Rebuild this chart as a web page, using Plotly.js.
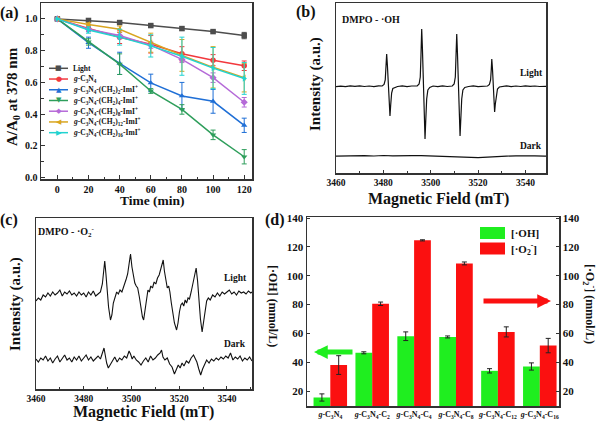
<!DOCTYPE html>
<html><head><meta charset="utf-8">
<script src="https://cdn.plot.ly/plotly-3.0.1.min.js"></script>
<style>html,body{margin:0;padding:0;background:#fff}#chart{width:600px;height:427px}</style>
</head><body><div id="chart"></div>
<script>
// ---------- Panel (a): photodegradation ----------
const time = [0, 20, 40, 60, 80, 100, 120];
const aLabels = ['Light',
  '<i>g</i>-C<sub>3</sub>N<sub>4</sub>',
  '<i>g</i>-C<sub>3</sub>N<sub>4</sub>-(CH<sub>2</sub>)<sub>2</sub>-ImI<sup>+</sup>',
  '<i>g</i>-C<sub>3</sub>N<sub>4</sub>-(CH<sub>2</sub>)<sub>4</sub>-ImI<sup>+</sup>',
  '<i>g</i>-C<sub>3</sub>N<sub>4</sub>-(CH<sub>2</sub>)<sub>8</sub>-ImI<sup>+</sup>',
  '<i>g</i>-C<sub>3</sub>N<sub>4</sub>-(CH<sub>2</sub>)<sub>12</sub>-ImI<sup>+</sup>',
  '<i>g</i>-C<sub>3</sub>N<sub>4</sub>-(CH<sub>2</sub>)<sub>16</sub>-ImI<sup>+</sup>'];
const aLight = [1.0, 0.990, 0.977, 0.958, 0.939, 0.920, 0.895];
const aC3N4  = [1.0, 0.940, 0.885, 0.840, 0.780, 0.740, 0.705];
const aC2    = [1.0, 0.850, 0.720, 0.597, 0.515, 0.481, 0.330];
const aC4    = [1.0, 0.855, 0.715, 0.546, 0.430, 0.270, 0.132];
const aC8    = [1.0, 0.935, 0.895, 0.835, 0.745, 0.630, 0.475];
const aC12   = [1.0, 0.965, 0.935, 0.850, 0.770, 0.695, 0.630];
const aC16   = [1.0, 0.930, 0.885, 0.830, 0.765, 0.690, 0.625];
const eLight = [0, 0.008, 0.008, 0.008, 0.010, 0.008, 0.020];
const eC3N4  = [0, 0.020, 0.040, 0.055, 0.045, 0.035, 0.030];
const eC2    = [0, 0.035, 0.070, 0.055, 0.085, 0.075, 0.045];
const eC4    = [0, 0.020, 0.065, 0.015, 0.030, 0.030, 0.045];
const eC8    = [0, 0.015, 0.020, 0.020, 0.020, 0.030, 0.030];
const eC12   = [0, 0.010, 0.020, 0.060, 0.100, 0.130, 0.090];
const eC16   = [0, 0.020, 0.050, 0.070, 0.120, 0.130, 0.100];

// ---------- Panel (b): DMPO-·OH EPR ----------
const bLightField = [3460,3462,3464,3466,3468,3470,3472,3474,3476,3478,3479.5,3480.3,3480.8,3481.1,3481.4,3481.7,3482.0,3482.3,3482.6,3482.8,3483.1,3483.5,3484.0,3484.8,3486,3488,3490,3492,3494.3,3495.1,3495.6,3495.9,3496.2,3496.5,3496.8,3497.1,3497.4,3497.6,3497.9,3498.3,3498.8,3499.6,3501,3503,3505,3507,3509.1,3509.9,3510.4,3510.7,3511.0,3511.3,3511.6,3511.9,3512.2,3512.4,3512.7,3513.1,3513.6,3514.4,3516,3518,3520,3522,3524.0,3524.8,3525.3,3525.6,3525.8,3526.1,3526.4,3526.7,3527.0,3527.3,3527.7,3528.2,3529,3530,3532,3534,3536,3538,3540,3542,3544,3546,3548,3549];
const bLight = [86.4,86.9,86.3,87.1,86.6,87.2,86.5,87.0,86.4,87.2,87.0,88.5,93,105,119,108,90,72,60,57,68,80,84.5,85.5,86.5,87.1,86.4,87.0,87.0,89,96,118,144,125,95,65,42,34,52,74,83,85.5,87.0,86.3,87.1,86.5,87.0,89,96,117,139,120,93,65,44,37,53,74,83,85.5,86.5,87.1,86.3,86.9,87.0,88.5,93,104,114,104,87,70,61,69,79,84,86,86.5,87.1,86.4,87.0,86.5,87.2,86.6,87.0,86.5,86.9,86.6];
const bDarkField = [3460,3464,3468,3472,3476,3480,3484,3488,3492,3496,3500,3504,3508,3512,3516,3520,3524,3528,3532,3536,3540,3544,3548,3549];
const bDark = [16.8,17.2,16.9,17.4,17.0,17.5,17.2,17.6,17.3,17.4,17.0,17.2,16.8,16.4,16.0,15.4,15.8,16.6,16.9,17.2,16.8,17.1,16.9,17.0];

// ---------- Panel (c): DMPO-·O2- EPR ----------
const cLightField = [3460,3461,3462,3463,3464,3465,3466,3467,3468,3469,3470,3471,3472,3473,3474,3475,3476,3477,3478,3479,3480,3481,3482,3483,3484,3485,3486,3487,3487.8,3488.4,3488.8,3489.3,3489.8,3490.4,3491.2,3491.8,3492.4,3493.2,3493.8,3494.5,3495.2,3496,3496.6,3497.2,3497.8,3498.4,3498.9,3499.6,3500.2,3500.8,3501.4,3502,3502.6,3503.3,3504,3504.6,3505.1,3505.7,3506.3,3506.9,3507.5,3508.1,3508.8,3509.5,3510.2,3510.9,3511.6,3512.3,3512.9,3513.3,3513.8,3514.4,3515,3515.6,3516.1,3516.7,3517.3,3518,3518.9,3519.5,3520.1,3520.7,3521.3,3521.9,3522.5,3523.1,3523.7,3524.3,3525,3525.7,3526.4,3527.1,3527.7,3528.3,3528.9,3529.6,3530.2,3530.8,3531.5,3532.2,3533,3534,3535,3536,3537,3538,3539,3540,3541,3542,3543,3544,3545,3546,3547,3548,3549,3550,3550.5];
const cLight = [88,91,89,94,92,96,93,97,94,96,99,93,97,95,98,94,96,93,97,94,96,92,97,94,98,93,95,97,105,120,128,115,98,82,69,74,86,94,97,95,99,97,101,104,110,115,124,135,122,112,106,103,101,92,80,72,69,80,92,99,97,103,101,107,105,111,114,120,126,129,118,108,101,103,97,86,78,66,59,66,77,84,86,83,89,86,91,90,97,106,114,121,108,88,70,57,68,80,88,91,89,94,92,96,93,97,95,97,99,95,97,94,98,96,97,95,98,96,97];
const cDarkField = [3460,3461,3462,3463,3464,3465,3466,3467,3468,3469,3470,3471,3472,3473,3474,3475,3476,3477,3478,3479,3480,3481,3482,3483,3484,3485,3486,3487,3488,3488.5,3489,3489.6,3490.3,3491,3492,3493,3494,3495,3496,3497,3498,3499,3499.6,3500.3,3501,3502,3503,3504,3505,3506,3507,3508,3509,3510,3511,3512,3512.6,3513.2,3514,3515,3516,3517,3518,3518.8,3519.6,3520.4,3521.2,3522,3523,3524,3525,3526,3526.7,3527.4,3528.2,3529,3529.8,3530.6,3531.5,3532.5,3533.5,3534.5,3535.5,3536.5,3537.5,3538.5,3539.5,3540.5,3541.5,3542.5,3543.5,3544.5,3545.5,3546.5,3547.5,3548.5,3549.5,3550.5];
const cDark = [30,27,31,29,33,28,31,26,30,33,27,30,34,29,31,27,32,29,33,28,31,34,29,32,28,31,33,30,36,41,34,26,21,24,28,32,27,31,29,33,31,38,35,30,33,29,27,24,28,31,27,33,29,31,34,36,39,32,29,31,25,22,15,19,24,21,26,23,28,26,31,34,31,27,20,14,20,25,29,26,30,28,31,29,32,30,33,31,36,29,32,30,33,28,31,29,32,28];

// ---------- Panel (d): radical concentrations ----------
const dCategories = ['<i>g</i>-C<sub>3</sub>N<sub>4</sub>',
  '<i>g</i>-C<sub>3</sub>N<sub>4</sub>-C<sub>2</sub>',
  '<i>g</i>-C<sub>3</sub>N<sub>4</sub>-C<sub>4</sub>',
  '<i>g</i>-C<sub>3</sub>N<sub>4</sub>-C<sub>8</sub>',
  '<i>g</i>-C<sub>3</sub>N<sub>4</sub>-C<sub>12</sub>',
  '<i>g</i>-C<sub>3</sub>N<sub>4</sub>-C<sub>16</sub>'];
const dOH     = [15.5, 46.5, 58.0, 57.5, 34.0, 37.0];
const dOHerr  = [2.5, 0.7, 3.0, 0.7, 1.5, 2.5];
const dO2     = [38.0, 80.5, 124.5, 108.5, 61.0, 51.5];
const dO2err  = [6.5, 1.2, 0.4, 1.0, 3.5, 5.0];

// ---------- drawing ----------
const FONT = 'Liberation Serif, "Times New Roman", serif';
const X = p => p / 600;
const Y = p => 1 - p / 427;
const BOLD = (size) => ({family: FONT, size: size, color: '#111', weight: 'bold'});

const aStyle = [
  {color: '#4d4d4d', symbol: 'square', ch: '\u25A0'},
  {color: '#f2383d', symbol: 'circle', ch: '\u25CF'},
  {color: '#1f6fd6', symbol: 'triangle-up', ch: '\u25B2'},
  {color: '#2e9e5b', symbol: 'triangle-down', ch: '\u25BC'},
  {color: '#b56ad8', symbol: 'diamond', ch: '\u25C6'},
  {color: '#d9a520', symbol: 'triangle-left', ch: '\u25C0'},
  {color: '#22d3d0', symbol: 'triangle-right', ch: '\u25B6'}
];
const aVals = [aLight, aC3N4, aC2, aC4, aC8, aC12, aC16];
const aErrs = [eLight, eC3N4, eC2, eC4, eC8, eC12, eC16];

const traces = [];
aVals.forEach((v, i) => {
  traces.push({type: 'scatter', mode: 'lines+markers', name: aLabels[i], x: time, y: v,
    xaxis: 'x', yaxis: 'y',
    line: {color: aStyle[i].color, width: 1.5},
    marker: {symbol: aStyle[i].symbol, size: 5.5, color: aStyle[i].color},
    error_y: {type: 'data', array: aErrs[i], visible: true, color: aStyle[i].color, thickness: 1, width: 2.5}});
});
traces.push({type: 'scatter', mode: 'lines', name: 'Light (b)', x: bLightField, y: bLight, xaxis: 'x2', yaxis: 'y2', line: {color: '#111', width: 1.2}});
traces.push({type: 'scatter', mode: 'lines', name: 'Dark (b)', x: bDarkField, y: bDark, xaxis: 'x2', yaxis: 'y2', line: {color: '#111', width: 1.2}});
traces.push({type: 'scatter', mode: 'lines', name: 'Light (c)', x: cLightField, y: cLight, xaxis: 'x3', yaxis: 'y3', line: {color: '#111', width: 1.1}});
traces.push({type: 'scatter', mode: 'lines', name: 'Dark (c)', x: cDarkField, y: cDark, xaxis: 'x3', yaxis: 'y3', line: {color: '#111', width: 1.1}});
const catIdx = dCategories.map((c, i) => i);
traces.push({type: 'bar', name: '[·OH]', x: catIdx, y: dOH, xaxis: 'x4', yaxis: 'y4', width: 0.4, offset: -0.4,
  marker: {color: '#1fee1f', line: {width: 0}},
  error_y: {type: 'data', array: dOHerr, visible: true, color: '#222', thickness: 1, width: 2.5}});
traces.push({type: 'bar', name: '[·O2-]', x: catIdx, y: dO2, xaxis: 'x4', yaxis: 'y5', width: 0.4, offset: 0,
  marker: {color: '#fb1010', line: {width: 0}},
  error_y: {type: 'data', array: dO2err, visible: true, color: '#222', thickness: 1, width: 2.5}});

const frame = {showline: true, linecolor: '#333', linewidth: 1.5, mirror: true, showgrid: false, zeroline: false};

const layout = {
  width: 600, height: 427, margin: {l: 0, r: 0, t: 0, b: 0},
  paper_bgcolor: '#fff', plot_bgcolor: '#fff', showlegend: false,
  font: BOLD(10),
  xaxis: Object.assign({}, frame, {domain: [X(41), X(252)], anchor: 'y', range: [-10.5, 125],
    tickmode: 'linear', tick0: 0, dtick: 20, ticks: 'inside', ticklen: 4, tickcolor: '#333',
    minor: {dtick: 10, ticks: 'inside', ticklen: 2.5, tickcolor: '#333'}, tickfont: BOLD(10)}),
  yaxis: Object.assign({}, frame, {domain: [Y(179), Y(3)], anchor: 'x', range: [-0.008, 1.1],
    tickmode: 'linear', tick0: 0, dtick: 0.2, tickformat: '.1f', ticks: 'inside', ticklen: 4, tickcolor: '#333',
    minor: {dtick: 0.1, ticks: 'inside', ticklen: 2.5, tickcolor: '#333'}, tickfont: BOLD(10)}),
  xaxis2: Object.assign({}, frame, {domain: [X(336), X(546)], anchor: 'y2', range: [3460, 3548.7],
    tickmode: 'linear', tick0: 3460, dtick: 20, ticks: 'inside', ticklen: 3, tickcolor: '#333',
    minor: {dtick: 10, ticks: 'inside', ticklen: 2.5, tickcolor: '#333'}, tickfont: BOLD(9.5)}),
  yaxis2: Object.assign({}, frame, {domain: [Y(173), Y(3)], anchor: 'x2', range: [0, 170], showticklabels: false, ticks: ''}),
  xaxis3: Object.assign({}, frame, {domain: [X(36), X(252)], anchor: 'y3', range: [3460, 3550.5],
    tickmode: 'linear', tick0: 3460, dtick: 20, ticks: 'inside', ticklen: 3, tickcolor: '#333',
    minor: {dtick: 10, ticks: 'inside', ticklen: 2.5, tickcolor: '#333'}, tickfont: BOLD(9.5)}),
  yaxis3: Object.assign({}, frame, {domain: [Y(389), Y(218)], anchor: 'x3', range: [0, 171], showticklabels: false, ticks: ''}),
  xaxis4: Object.assign({}, frame, {domain: [X(307), X(559)], anchor: 'y4', range: [-0.556, 5.458],
    tickmode: 'array', tickvals: catIdx, ticktext: dCategories, ticks: '', tickfont: BOLD(8)}),
  yaxis4: Object.assign({}, frame, {domain: [Y(406), Y(217)], anchor: 'x4', range: [9.6, 140.7], mirror: false,
    tickmode: 'linear', tick0: 0, dtick: 20, ticks: 'inside', ticklen: 3, tickcolor: '#333', tickfont: BOLD(11)}),
  yaxis5: {overlaying: 'y4', side: 'right', anchor: 'x4', range: [9.6, 140.7], showline: true, linecolor: '#333', linewidth: 1.5,
    showgrid: false, zeroline: false, tickmode: 'linear', tick0: 0, dtick: 20, ticks: 'inside', ticklen: 3, tickcolor: '#333', tickfont: BOLD(11)},
  shapes: [],
  annotations: []
};

const ann = (text, x, y, size, opts) => Object.assign({text: text, x: X(x), y: Y(y), xref: 'paper', yref: 'paper',
  showarrow: false, font: BOLD(size), xanchor: 'center', yanchor: 'middle'}, opts || {});

// panel letters
layout.annotations.push(ann('(a)', 9, 13, 16));
layout.annotations.push(ann('(b)', 306, 12, 16));
layout.annotations.push(ann('(c)', 9, 220, 16));
layout.annotations.push(ann('(d)', 275, 220, 16));
// axis titles
layout.annotations.push(ann('A/A<sub>0</sub> at 378 nm', 13, 97, 15, {textangle: -90}));
layout.annotations.push(ann('Time (min)', 152, 200, 13.5));
layout.annotations.push(ann('Intensity (a.u.)', 315, 84, 15, {textangle: -90}));
layout.annotations.push(ann('Magnetic Field (mT)', 438, 199, 16));
layout.annotations.push(ann('Intensity (a.u.)', 15, 304, 15, {textangle: -90}));
layout.annotations.push(ann('Magnetic Field (mT)', 143, 412, 16));
layout.annotations.push(ann('[·OH] (mmol/L)', 273, 306, 12, {textangle: 90}));
layout.annotations.push(ann('[·O<sub>2</sub><sup>-</sup>] (mmol/L)', 590, 304, 12, {textangle: 90}));
// in-panel texts
layout.annotations.push(ann('DMPO - ·OH', 371, 19, 10));
layout.annotations.push(ann('Light', 531, 73, 9.5));
layout.annotations.push(ann('Dark', 531, 146, 9.5));
layout.annotations.push(ann('DMPO - ·O<sub>2</sub><sup>-</sup>', 66, 232, 10));
layout.annotations.push(ann('Light', 235, 278, 9.5));
layout.annotations.push(ann('Dark', 235, 344, 9.5));

// panel (a) legend
aLabels.forEach((lab, i) => {
  const yy = 68.3 + i * 10.73;
  layout.shapes.push({type: 'line', xref: 'paper', yref: 'paper', x0: X(49), x1: X(68), y0: Y(yy), y1: Y(yy),
    line: {color: aStyle[i].color, width: 1.5}});
  layout.annotations.push(ann(aStyle[i].ch, 58.5, yy, 7, {font: {family: 'DejaVu Sans', size: 7, color: aStyle[i].color}}));
  layout.annotations.push(ann(lab, 70.5, yy, 7.5, {xanchor: 'left'}));
});

// panel (d) legend
layout.shapes.push({type: 'rect', xref: 'paper', yref: 'paper', x0: X(480), x1: X(505), y0: Y(239), y1: Y(227), fillcolor: '#1fee1f', line: {width: 0}});
layout.shapes.push({type: 'rect', xref: 'paper', yref: 'paper', x0: X(480), x1: X(505), y0: Y(254.5), y1: Y(242.5), fillcolor: '#fb1010', line: {width: 0}});
layout.annotations.push(ann('[·OH]', 509, 233, 11, {xanchor: 'left'}));
layout.annotations.push(ann('[·O<sub>2</sub><sup>-</sup>]', 509, 248.5, 11, {xanchor: 'left'}));
// panel (d) arrows
layout.annotations.push({text: '', x: X(314), y: Y(352), xref: 'paper', yref: 'paper', showarrow: true,
  ax: 40, ay: 0, arrowhead: 2, arrowsize: 0.55, arrowwidth: 5, arrowcolor: '#1fee1f', standoff: 0});
layout.annotations.push({text: '', x: X(551), y: Y(301), xref: 'paper', yref: 'paper', showarrow: true,
  ax: -69, ay: 0, arrowhead: 2, arrowsize: 0.55, arrowwidth: 5, arrowcolor: '#fb1010', standoff: 0});

Plotly.newPlot('chart', traces, layout, {displayModeBar: false, staticPlot: true});
</script></body></html>
